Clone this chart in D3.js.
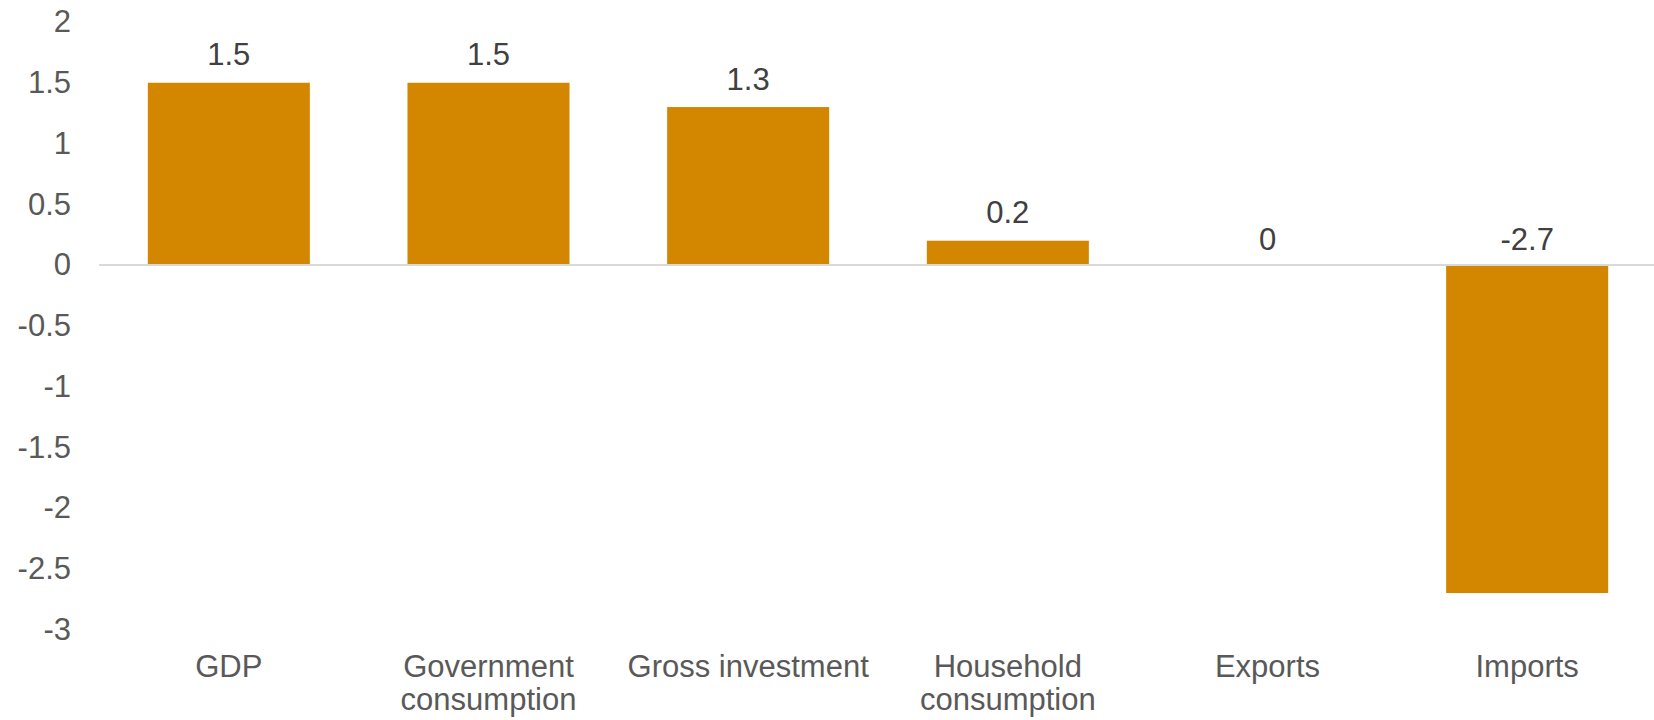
<!DOCTYPE html>
<html>
<head>
<meta charset="utf-8">
<title>Contributions</title>
<script src="https://cdnjs.cloudflare.com/ajax/libs/d3/7.8.5/d3.min.js"></script>
<style>
  body { margin: 0; background: #fff; }
  svg text { font-family: "Liberation Sans", Arial, sans-serif; }
</style>
</head>
<body>
<svg id="chart"></svg>
<script>
var categories = ["GDP", "Government consumption", "Gross investment", "Household consumption", "Exports", "Imports"];
var values = [1.5, 1.5, 1.3, 0.2, 0, -2.7];
var tickValues = [2, 1.5, 1, 0.5, 0, -0.5, -1, -1.5, -2, -2.5, -3];

var width = 1654, height = 720;
var plotLeft = 99, plotRight = 1657, plotTop = 22, plotBottom = 629.5;
var fontSize = 31;

var svg = d3.select("#chart").attr("width", width).attr("height", height);

var x = d3.scaleBand().domain(categories).range([plotLeft, plotRight]).paddingInner(0.376).paddingOuter(0.188);
var y = d3.scaleLinear().domain([-3, 2]).range([plotBottom, plotTop]);

// y axis labels only, no line
var yAxis = svg.append("g")
  .attr("transform", "translate(" + plotLeft + ",0)")
  .call(d3.axisLeft(y).tickValues(tickValues).tickSize(0).tickPadding(28).tickFormat(function(d) { return String(d); }));
yAxis.select(".domain").remove();
yAxis.selectAll("text").attr("font-size", fontSize).attr("fill", "#595959")
  .style("font-family", "'Liberation Sans', Arial, sans-serif");

// bars
svg.selectAll("rect.bar").data(values).enter().append("rect")
  .attr("class", "bar")
  .attr("x", function(d, i) { return x(categories[i]); })
  .attr("width", x.bandwidth())
  .attr("y", function(d) { return y(Math.max(d, 0)); })
  .attr("height", function(d) { return Math.abs(y(d) - y(0)); })
  .attr("fill", "#D38600");

// zero line
svg.append("line")
  .attr("x1", plotLeft).attr("x2", width)
  .attr("y1", y(0)).attr("y2", y(0))
  .attr("stroke", "#D9D9D9").attr("stroke-width", 2);

// value labels
svg.selectAll("text.val").data(values).enter().append("text")
  .attr("class", "val")
  .attr("x", function(d, i) { return x(categories[i]) + x.bandwidth() / 2; })
  .attr("y", function(d) { return y(Math.max(d, 0)) - (d > 0 ? 17.5 : 15); })
  .attr("text-anchor", "middle")
  .attr("font-size", fontSize)
  .attr("fill", "#404040")
  .text(function(d) { return d; });

// category labels, wrapped to band width
var catG = svg.selectAll("text.cat").data(categories).enter().append("text")
  .attr("class", "cat")
  .attr("x", function(d) { return x(d) + x.bandwidth() / 2; })
  .attr("y", 677)
  .attr("text-anchor", "middle")
  .attr("font-size", fontSize)
  .attr("fill", "#595959");

catG.each(function(d) {
  var t = d3.select(this);
  var words = d.split(" ");
  var maxW = 255;
  var line = [];
  var tspan = t.append("tspan").attr("x", t.attr("x")).attr("dy", 0);
  words.forEach(function(w) {
    line.push(w);
    tspan.text(line.join(" "));
    if (tspan.node().getComputedTextLength() > maxW && line.length > 1) {
      line.pop();
      tspan.text(line.join(" "));
      line = [w];
      tspan = t.append("tspan").attr("x", t.attr("x")).attr("dy", 33).text(w);
    }
  });
});
</script>
</body>
</html>
